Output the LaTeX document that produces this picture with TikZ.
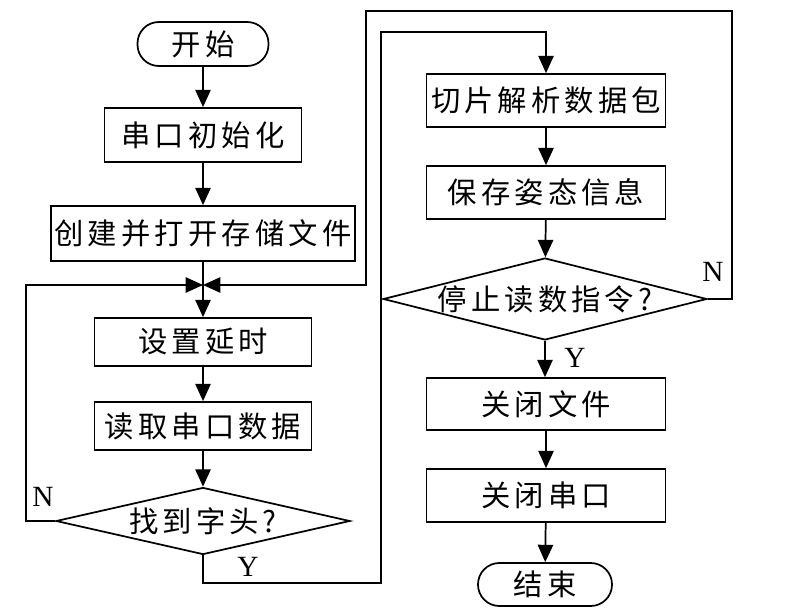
\documentclass[tikz,border=0pt]{standalone}
\usepackage{fontspec}
\setmainfont{Liberation Serif}
\newfontfamily\cjk{Noto Sans CJK SC}[LetterSpace=14]
\usetikzlibrary{arrows.meta,shapes.geometric}

\tikzset{
  line/.style={line width=1.3pt},
  flow/.style={line, -{Triangle[length=13pt,width=11.5pt]}},
  cjktext/.style={font=\cjk\fontsize{22}{26}\selectfont},
  procbox/.style={cjktext, draw, line, rectangle, inner sep=0pt},
  termbox/.style={cjktext, draw, line, rectangle, rounded corners=16pt, inner sep=0pt},
  decbox/.style={cjktext, draw, line, diamond, inner sep=0pt, aspect=4},
  yn/.style={font=\fontsize{22}{24}\selectfont, inner sep=0pt}
}

\begin{document}
\begin{tikzpicture}[x=0.75pt,y=0.75pt,yscale=-1,xscale=1]
\useasboundingbox (0,0) rectangle (798,616);

%Shape: Terminal [id:start] 
\node (start) at (203,44) [termbox, minimum width=98.25pt, minimum height=33pt] {开始};
%Shape: Rectangle [id:init] 
\node (init) at (203,135) [procbox, minimum width=147.75pt, minimum height=40.5pt] {串口初始化};
%Shape: Rectangle [id:openfile] 
\node (openfile) at (203,233.5) [procbox, minimum width=228pt, minimum height=41.25pt] {创建并打开存储文件};
%Shape: Rectangle [id:delay] 
\node (delay) at (203,342) [procbox, minimum width=162.75pt, minimum height=36pt] {设置延时};
%Shape: Rectangle [id:readport] 
\node (readport) at (203,426) [procbox, minimum width=162.75pt, minimum height=36pt] {读取串口数据};
%Shape: Diamond [id:findhead] 
\node (findhead) at (203,521) [decbox, minimum width=220.5pt, minimum height=50.25pt] {找到字头?};

%Shape: Rectangle [id:slice] 
\node (slice) at (546,100.5) [procbox, minimum width=179.25pt, minimum height=39.75pt] {切片解析数据包};
%Shape: Rectangle [id:save] 
\node (save) at (546,192.5) [procbox, minimum width=179.25pt, minimum height=39.75pt] {保存姿态信息};
%Shape: Diamond [id:stopcmd] 
\node (stopcmd) at (545,299) [decbox, minimum width=229.5pt, minimum height=61.5pt] {停止读数指令?};
%Shape: Rectangle [id:closefile] 
\node (closefile) at (546,404) [procbox, minimum width=179.25pt, minimum height=39pt] {关闭文件};
%Shape: Rectangle [id:closeport] 
\node (closeport) at (546,495.5) [procbox, minimum width=179.25pt, minimum height=39.75pt] {关闭串口};
%Shape: Terminal [id:stop] 
\node (stop) at (545,584.5) [termbox, minimum width=100.5pt, minimum height=32.25pt] {结束};

% bends
\coordinate (j) at (203,285);
\coordinate (nl) at (26,521);
\coordinate (yb) at (203,583);
\coordinate (yr) at (381,583);
\coordinate (yt) at (381,32);
\coordinate (ys) at (546,32);
\coordinate (nr) at (732,299);
\coordinate (nt) at (732,11);
\coordinate (nx) at (366,11);
\coordinate (nj) at (366,285);

%Straight Lines 
\draw [flow] (start) -- (init);
\draw [flow] (init) -- (openfile);
\draw [flow] (openfile) -- (delay);
\draw [flow] (delay) -- (readport);
\draw [flow] (readport) -- (findhead);
%Straight Lines 
\draw [flow] (findhead.west) -- (nl) |- (j);
\draw [flow] (findhead.south) -- (yb) -- (yr) -- (yt) -- (ys) -- (slice.north);
\draw [flow] (slice) -- (save);
\draw [flow] (save) -- (stopcmd);
\draw [flow] (stopcmd.east) -- (nr) -- (nt) -- (nx) -- (nj) -- (j);
\draw [flow] (stopcmd.south) -- (closefile.north -| stopcmd.south);
\draw [flow] (closefile) -- (closeport);
\draw [flow] (closeport) -- (stop);

% Text Node
\node (n1) at (43,497) [yn] {N};
% Text Node
\node (y1) at (248,567) [yn] {Y};
% Text Node
\node (n2) at (713,272) [yn] {N};
% Text Node
\node (y2) at (575,358) [yn] {Y};

\end{tikzpicture}
\end{document}
